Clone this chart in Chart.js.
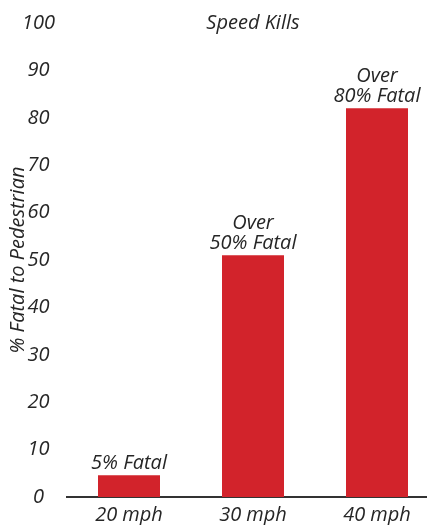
<!DOCTYPE html>
<html>
<head>
<meta charset="utf-8">
<script src="https://cdn.jsdelivr.net/npm/chart.js@4/dist/chart.umd.min.js"></script>
<style>
  html, body { margin: 0; padding: 0; background: #fff; overflow: hidden; }
  #wrap { width: 440px; height: 525px; }
</style>
</head>
<body>
<div id="wrap"><canvas id="barChart"></canvas></div>
<script>
const speeds = ['20 mph', '30 mph', '40 mph'];
const fatalPct = [4.6, 51, 82];
const barNotes = [['5% Fatal'], ['Over', '50% Fatal'], ['Over', '80% Fatal']];
const yTicks = [0, 10, 20, 30, 40, 50, 60, 70, 80, 90, 100];

const textColor = '#262626';
const italic = (size) => ({ family: "'Open Sans', sans-serif", size: size, style: 'italic' });

// writes the notes over each bar and the title at the top of the plot
const notesPlugin = {
    id: 'notes',
    afterDatasetsDraw(chart) {
        const ctx = chart.ctx;
        const meta = chart.getDatasetMeta(0);
        ctx.save();
        ctx.fillStyle = textColor;
        ctx.font = "italic 20px 'Open Sans', sans-serif";
        ctx.textAlign = 'center';
        ctx.textBaseline = 'alphabetic';
        meta.data.forEach((bar, i) => {
            const lines = barNotes[i];
            lines.forEach((line, j) => {
                const fromBottom = lines.length - 1 - j;
                ctx.fillText(line, bar.x, bar.y - 6 - fromBottom * 20);
            });
        });
        const area = chart.chartArea;
        ctx.textBaseline = 'middle';
        ctx.fillText('Speed Kills', (area.left + area.right) / 2, chart.scales.y.getPixelForValue(100));
        ctx.restore();
    }
};

const ctx = document.getElementById('barChart').getContext('2d');
const barChart = new Chart(ctx, {
    type: 'bar',
    data: {
        labels: speeds,
        datasets: [{
            data: fatalPct,
            backgroundColor: '#d2232b',
            barPercentage: 1,
            categoryPercentage: 0.5
        }]
    },
    options: {
        responsive: true,
        maintainAspectRatio: false,
        animation: false,
        layout: { padding: { top: 23, right: 1, bottom: 0, left: 0 } },
        plugins: {
            legend: { display: false },
            tooltip: { enabled: false },
            title: { display: false }
        },
        scales: {
            x: {
                afterFit: (scale) => { scale.height = 28; },
                grid: { display: false },
                border: { display: true, color: '#333', width: 2 },
                ticks: { color: textColor, font: italic(20), padding: -2 }
            },
            y: {
                min: 0,
                max: 100,
                afterFit: (scale) => { scale.width = 67; },
                afterBuildTicks: (scale) => { scale.ticks = yTicks.map(v => ({ value: v })); },
                grid: { display: false },
                border: { display: false },
                ticks: { color: textColor, font: italic(20), crossAlign: 'center', padding: 4 },
                title: {
                    display: true,
                    text: '% Fatal to Pedestrian',
                    color: textColor,
                    font: italic(20),
                    padding: { top: 6, bottom: 0 }
                }
            }
        }
    },
    plugins: [notesPlugin]
});
</script>
</body>
</html>
